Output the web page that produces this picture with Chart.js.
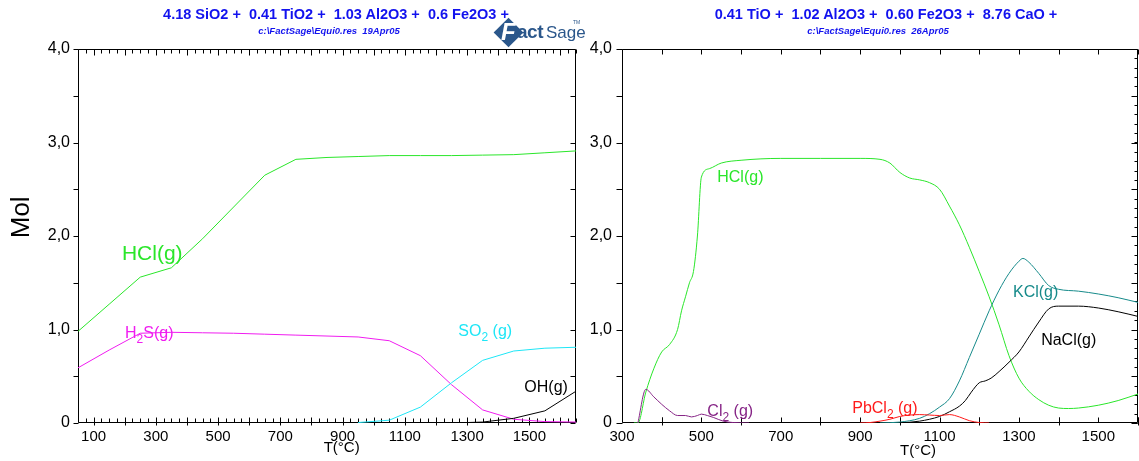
<!DOCTYPE html>
<html>
<head>
<meta charset="utf-8">
<script src="https://cdn.jsdelivr.net/npm/chart.js@4.4.1/dist/chart.umd.min.js"></script>
<style>
  html, body { margin: 0; padding: 0; background: #fff; }
  #wrap { position: relative; width: 1139px; height: 461px; overflow: hidden; font-family: "Liberation Sans", Arial, sans-serif; }
  canvas { position: absolute; top: 0; }
  #cl { left: 0; }
  #cr { left: 580px; }
  .ttl { position: absolute; white-space: pre; color: #1212ee; font-weight: bold; font-size: 14.5px; line-height: 16px; transform: translateX(-50%); }
  .sub { position: absolute; white-space: pre; color: #1212ee; font-weight: bold; font-style: italic; font-size: 9.5px; line-height: 10px; transform: translateX(-50%); }
  #logo { position: absolute; left: 496px; top: 11px; width: 82px; height: 38px; color: #2b578b; }
  #logo .dia { position: absolute; left: 2px; top: 11px; width: 21px; height: 21px; background: #2b578b; transform: rotate(45deg); }
  #logo .f { position: absolute; left: 5px; top: 7px; font: italic bold 24px "Liberation Sans", Arial, sans-serif; color: #fff; }
  #logo .act { position: absolute; left: 21px; top: 10px; font: bold 19px "Liberation Sans", Arial, sans-serif; letter-spacing: -0.5px; }
  #logo .sage { position: absolute; left: 50px; top: 12px; font: 17px "Liberation Sans Narrow", "Liberation Sans", Arial, sans-serif; }
  #logo .tm { position: absolute; left: 77px; top: 8px; font: 5px "Liberation Sans", Arial, sans-serif; }
</style>
</head>
<body>
<div id="wrap">
  <canvas id="cl" width="580" height="461"></canvas>
  <canvas id="cr" width="559" height="461"></canvas>
  <div class="ttl" style="left:336px;top:6px">4.18 SiO2 +  0.41 TiO2 +  1.03 Al2O3 +  0.6 Fe2O3 +</div>
  <div class="sub" style="left:329px;top:26px">c:\FactSage\Equi0.res  19Apr05</div>
  <div id="logo"><div class="dia"></div><span class="f">F</span><span class="act">act</span><span class="sage">Sage</span><span class="tm">TM</span></div>
  <div class="ttl" style="left:886px;top:6px">0.41 TiO +  1.02 Al2O3 +  0.60 Fe2O3 +  8.76 CaO +</div>
  <div class="sub" style="left:878px;top:26px">c:\FactSage\Equi0.res  26Apr05</div>
</div>
<script>
// ---- Left diagram: gas species (mol) against temperature (°C) ----
const leftTemps = [50, 150, 250, 350, 450, 550, 650, 750, 850, 950, 1050, 1150, 1250, 1350, 1450, 1550, 1650];
const leftHCl = [0.98, 1.27, 1.56, 1.66, 1.97, 2.31, 2.65, 2.82, 2.84, 2.85, 2.86, 2.86, 2.86, 2.865, 2.87, 2.89, 2.91];
const leftH2S = [0.59, 0.78, 0.96, 0.97, 0.965, 0.96, 0.95, 0.94, 0.93, 0.92, 0.88, 0.72, 0.41, 0.14, 0.04, 0.015, 0.01];
const leftSO2 = [null, null, null, null, null, null, null, null, null, 0.005, 0.03, 0.17, 0.43, 0.67, 0.77, 0.80, 0.81];
const leftOH = [null, null, null, null, null, null, null, null, null, null, null, null, 0.0, 0.01, 0.05, 0.13, 0.34];
const leftTempTicks = [100, 300, 500, 700, 900, 1100, 1300, 1500];

// ---- Right diagram ----
const rightHClTemps = [330, 340, 360, 380, 400, 420, 440, 450, 460, 470, 480, 490, 500, 520, 550, 600, 700, 800, 900, 950, 975, 1000, 1025, 1050, 1075, 1100, 1125, 1150, 1175, 1200, 1225, 1250, 1275, 1300, 1325, 1350, 1375, 1400, 1425, 1450, 1500, 1550, 1600];
const rightHCl = [0, 0, 0.33, 0.58, 0.76, 0.84, 1.0, 1.2, 1.35, 1.5, 1.62, 2.0, 2.63, 2.72, 2.78, 2.81, 2.83, 2.83, 2.83, 2.82, 2.78, 2.68, 2.62, 2.6, 2.57, 2.5, 2.32, 2.12, 1.88, 1.62, 1.35, 1.05, 0.72, 0.48, 0.34, 0.25, 0.19, 0.16, 0.155, 0.16, 0.19, 0.24, 0.31];
const rightKClTemps = [950, 1000, 1050, 1075, 1100, 1125, 1150, 1175, 1200, 1225, 1250, 1275, 1300, 1310, 1325, 1350, 1375, 1400, 1450, 1500, 1550, 1600];
const rightKCl = [0, 0.01, 0.05, 0.1, 0.17, 0.26, 0.45, 0.7, 0.95, 1.2, 1.42, 1.6, 1.73, 1.76, 1.72, 1.6, 1.47, 1.43, 1.41, 1.38, 1.34, 1.29];
const rightNaClTemps = [1000, 1050, 1100, 1125, 1150, 1165, 1180, 1200, 1215, 1230, 1250, 1275, 1300, 1325, 1350, 1375, 1400, 1450, 1500, 1550, 1600];
const rightNaCl = [0, 0.02, 0.07, 0.12, 0.18, 0.24, 0.33, 0.43, 0.45, 0.48, 0.55, 0.65, 0.76, 0.92, 1.08, 1.22, 1.25, 1.25, 1.23, 1.19, 1.14];
const rightCl2Temps = [340, 360, 380, 400, 420, 440, 460, 475, 490, 500, 515, 530, 555, 580, 620];
const rightCl2 = [0, 0.36, 0.28, 0.2, 0.13, 0.08, 0.08, 0.065, 0.08, 0.095, 0.08, 0.06, 0.02, 0.005, 0];
const rightPbCl2Temps = [900, 925, 950, 975, 1000, 1025, 1050, 1075, 1100, 1125, 1150, 1175, 1200, 1225];
const rightPbCl2 = [0, 0.005, 0.02, 0.04, 0.07, 0.085, 0.09, 0.085, 0.08, 0.09, 0.065, 0.025, 0.005, 0];
const rightTempTicks = [300, 500, 700, 900, 1100, 1300, 1500];

const molTicks = [0, 1, 2, 3, 4];

const FONT = '"Liberation Sans", Arial, sans-serif';
const GREEN = '#2ae62a', MAGENTA = '#f01cf0', CYAN = '#1ee6f6', TEAL = '#168a8a', PURPLE = '#862486', RED = '#ff1a1a', BLACK = '#000';

function series(temps, mols) {
  return temps.map((t, i) => ({ x: t, y: mols[i] })).filter(p => p.y !== null);
}

// text with "_n" subscripts
function drawRich(ctx, text, x, y, size, color, align) {
  const parts = text.split(/(_\d)/).filter(Boolean).map(p => p[0] === '_' ? { s: p.slice(1), sub: true } : { s: p, sub: false });
  const fontOf = p => `${p.sub ? Math.round(size * 0.72) : size}px ${FONT}`;
  let w = 0;
  parts.forEach(p => { ctx.font = fontOf(p); p.w = ctx.measureText(p.s).width; w += p.w; });
  let cx = align === 'center' ? x - w / 2 : x;
  ctx.fillStyle = color;
  ctx.textBaseline = 'middle';
  ctx.textAlign = 'left';
  parts.forEach(p => { ctx.font = fontOf(p); ctx.fillText(p.s, cx, p.sub ? y + size * 0.38 : y); cx += p.w; });
}

// plot frame with tick marks on all four sides
const frameTicks = {
  id: 'frameTicks',
  beforeDatasetsDraw(chart, args, o) {
    const { ctx, chartArea: a, scales: { x: X, y: Y } } = chart;
    const L = Math.round(a.left) + 0.5, R = Math.round(a.right) - 0.5;
    const T = Math.round(a.top) + 0.5, B = Math.round(a.bottom) - 0.5;
    ctx.save();
    ctx.strokeStyle = '#000';
    ctx.lineWidth = 1;
    ctx.beginPath();
    ctx.rect(L, T, R - L, B - T);
    const each = (min, max, step, fn) => {
      for (let v = Math.ceil(min / step - 1e-9) * step; v <= max + 1e-9; v += step) fn(v);
    };
    (o.bottom || []).forEach(s => each(X.min, X.max, s.step, v => {
      const px = Math.round(X.getPixelForValue(v)) + 0.5;
      ctx.moveTo(px, B - s.inLen); ctx.lineTo(px, B + (s.outLen || 0));
    }));
    (o.top || []).forEach(s => each(X.min, X.max, s.step, v => {
      const px = Math.round(X.getPixelForValue(v)) + 0.5;
      ctx.moveTo(px, T + s.inLen); ctx.lineTo(px, T - (s.outLen || 0));
    }));
    (o.left || []).forEach(s => each(Y.min, Y.max, s.step, v => {
      const py = Math.round(Y.getPixelForValue(v)) + 0.5;
      ctx.moveTo(L + (s.inLen || 0), py); ctx.lineTo(L - (s.outLen || 0), py);
    }));
    (o.right || []).forEach(s => each(Y.min, Y.max, s.step, v => {
      const py = Math.round(Y.getPixelForValue(v)) + 0.5;
      ctx.moveTo(R - (s.inLen || 0), py); ctx.lineTo(R + (s.outLen || 0), py);
    }));
    ctx.stroke();
    ctx.restore();
  }
};

// curve names and axis titles placed in data coordinates
const curveLabels = {
  id: 'curveLabels',
  afterDatasetsDraw(chart, args, o) {
    const { ctx, chartArea: a, scales: { x: X, y: Y } } = chart;
    ctx.save();
    (o.items || []).forEach(it => drawRich(ctx, it.text, X.getPixelForValue(it.t), Y.getPixelForValue(it.mol), it.size, it.color));
    if (o.xTitle) drawRich(ctx, 'T(°C)', X.getPixelForValue(o.xTitle.t), a.bottom + o.xTitle.dy, 15, BLACK, 'center');
    if (o.yTitle) {
      ctx.translate(o.yTitle.x, Y.getPixelForValue(o.yTitle.mol));
      ctx.rotate(-Math.PI / 2);
      drawRich(ctx, o.yTitle.text, 0, 0, o.yTitle.size, BLACK, 'center');
    }
    ctx.restore();
  }
};

function molLabel(v) { return v === 0 ? '0' : v.toFixed(1).replace('.', ','); }

function buildOptions(c) {
  return {
    responsive: false,
    animation: false,
    events: [],
    layout: { padding: { left: 0, right: c.padRight, top: 49, bottom: 0 } },
    elements: {
      point: { radius: 0 },
      line: { borderWidth: 1, tension: c.tension, cubicInterpolationMode: c.mode }
    },
    plugins: {
      legend: { display: false },
      tooltip: { enabled: false },
      frameTicks: c.frame,
      curveLabels: { items: c.labels, xTitle: c.xTitle, yTitle: c.yTitle }
    },
    scales: {
      x: {
        type: 'linear', min: c.xMin, max: c.xMax,
        grid: { display: false, drawTicks: false },
        border: { display: false },
        ticks: { color: '#000', font: { family: FONT, size: 15 }, padding: 5, maxRotation: 0, autoSkip: false, callback: v => String(v) },
        afterBuildTicks: s => { s.ticks = c.xTicks.map(v => ({ value: v })); },
        afterFit: s => { s.height = 38; }
      },
      y: {
        type: 'linear', min: 0, max: 4,
        grid: { display: false, drawTicks: false },
        border: { display: false },
        ticks: { color: '#000', font: { family: FONT, size: 16 }, padding: c.yPad, autoSkip: false, callback: v => molLabel(v) },
        afterBuildTicks: s => { s.ticks = molTicks.map(v => ({ value: v })); },
        afterFit: s => { s.width = c.yWidth; }
      }
    }
  };
}

new Chart(document.getElementById('cl'), {
  type: 'line',
  data: {
    datasets: [
      { label: 'OH(g)', data: series(leftTemps, leftOH), borderColor: BLACK },
      { label: 'SO2(g)', data: series(leftTemps, leftSO2), borderColor: CYAN },
      { label: 'H2S(g)', data: series(leftTemps, leftH2S), borderColor: MAGENTA },
      { label: 'HCl(g)', data: series(leftTemps, leftHCl), borderColor: GREEN }
    ]
  },
  options: buildOptions({
    xMin: 50, xMax: 1650, xTicks: leftTempTicks, padRight: 4, yWidth: 78, yPad: 8,
    tension: 0, mode: 'default',
    frame: {
      bottom: [{ step: 25, inLen: 4 }, { step: 100, inLen: 5, outLen: 3 }],
      top: [{ step: 25, inLen: 4 }, { step: 100, inLen: 6 }],
      left: [{ step: 0.5, outLen: 5 }],
      right: [{ step: 0.5, inLen: 5 }]
    },
    labels: [
      { text: 'HCl(g)', t: 191, mol: 1.80, size: 21, color: GREEN },
      { text: 'H_2S(g)', t: 201, mol: 0.96, size: 16, color: MAGENTA },
      { text: 'SO_2 (g)', t: 1272, mol: 0.98, size: 16, color: CYAN },
      { text: 'OH(g)', t: 1484, mol: 0.38, size: 16, color: BLACK }
    ],
    xTitle: { t: 897, dy: 25 },
    yTitle: { text: 'Mol', x: 22, mol: 2.2, size: 26 }
  }),
  plugins: [frameTicks, curveLabels]
});

new Chart(document.getElementById('cr'), {
  type: 'line',
  data: {
    datasets: [
      { label: 'PbCl2(g)', data: series(rightPbCl2Temps, rightPbCl2), borderColor: RED },
      { label: 'Cl2(g)', data: series(rightCl2Temps, rightCl2), borderColor: PURPLE },
      { label: 'NaCl(g)', data: series(rightNaClTemps, rightNaCl), borderColor: BLACK },
      { label: 'KCl(g)', data: series(rightKClTemps, rightKCl), borderColor: TEAL },
      { label: 'HCl(g)', data: series(rightHClTemps, rightHCl), borderColor: GREEN }
    ]
  },
  options: buildOptions({
    xMin: 300, xMax: 1600, xTicks: rightTempTicks, padRight: 1, yWidth: 42, yPad: 10,
    tension: 0, mode: 'monotone',
    frame: {
      bottom: [{ step: 100, inLen: 5 }, { step: 200, inLen: 5, outLen: 3 }],
      top: [{ step: 100, inLen: 5 }],
      left: [{ step: 0.5, outLen: 6 }],
      right: [{ step: 0.1, inLen: 3 }, { step: 0.5, inLen: 6 }]
    },
    labels: [
      { text: 'HCl(g)', t: 540, mol: 2.63, size: 16, color: GREEN },
      { text: 'KCl(g)', t: 1285, mol: 1.39, size: 16, color: TEAL },
      { text: 'NaCl(g)', t: 1356, mol: 0.885, size: 16, color: BLACK },
      { text: 'Cl_2 (g)', t: 515, mol: 0.125, size: 16, color: PURPLE },
      { text: 'PbCl_2 (g)', t: 880, mol: 0.157, size: 16, color: RED }
    ],
    xTitle: { t: 1046, dy: 28 }
  }),
  plugins: [frameTicks, curveLabels]
});
</script>
</body>
</html>
